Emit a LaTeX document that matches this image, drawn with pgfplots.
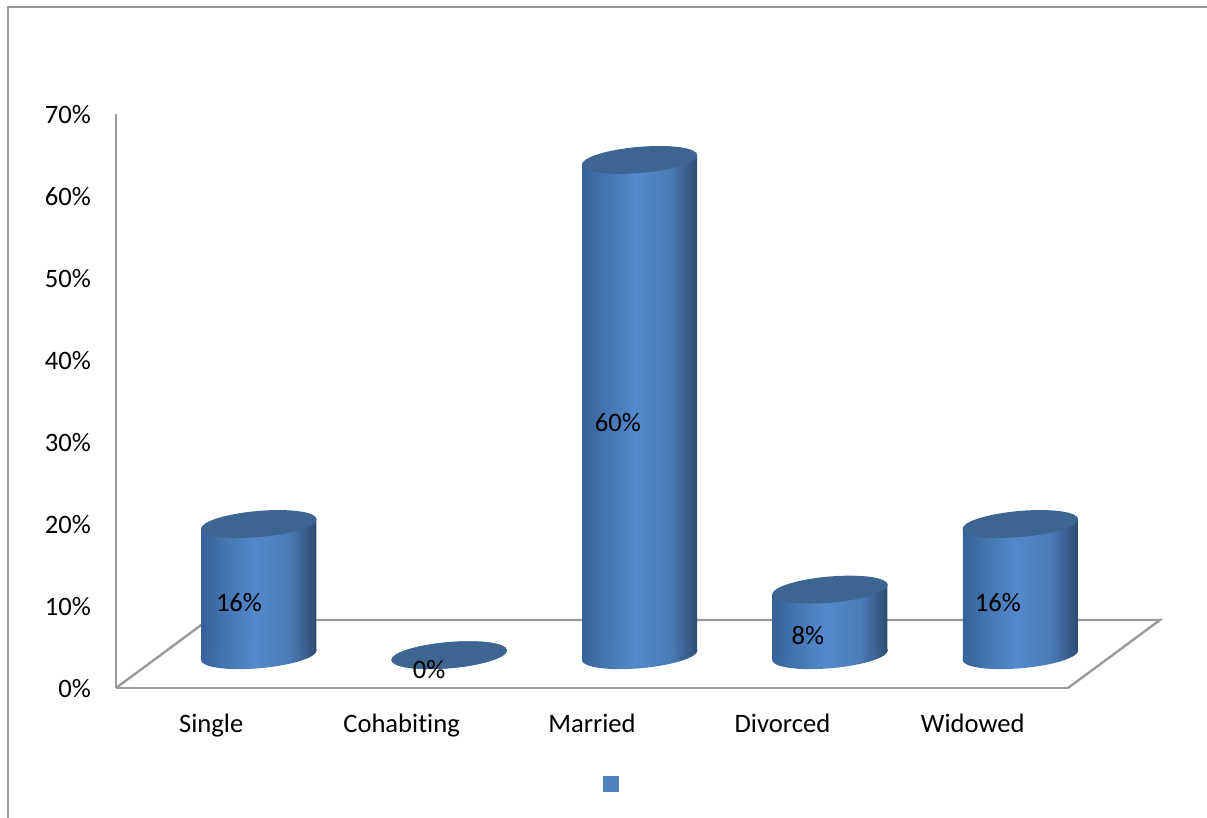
\documentclass[border=0pt]{standalone}
\usepackage{pgfplots}
\usepackage{pgfplotstable}
\usepackage{fontspec}
\setmainfont[Ligatures=CommonOff]{Carlito}
\pgfplotsset{compat=1.18}

\definecolor{axisgray}{HTML}{9A9A9A}
\definecolor{captop}{HTML}{3C6591}
\definecolor{keyblue}{HTML}{4F81BD}
\definecolor{cylA}{HTML}{35629A}
\definecolor{cylB}{HTML}{4273AE}
\definecolor{cylC}{HTML}{5489CC}
\definecolor{cylD}{HTML}{4B7CB8}
\definecolor{cylE}{HTML}{2D4B70}

% the middle 50bp of the shading is what fills the path
\pgfdeclarehorizontalshading{cyl}{100bp}{
  color(0bp)=(cylA); color(25bp)=(cylA); color(34bp)=(cylB);
  color(48bp)=(cylC); color(63bp)=(cylD); color(75bp)=(cylE); color(100bp)=(cylE)}

\pgfdeclareplotmark{cylcap}{%
  \pgfpathellipse{\pgfpointorigin}{\pgfqpoint{28.9pt}{2.5pt}}{\pgfqpoint{-0.55pt}{6.5pt}}%
  \pgfusepathqfill}
\pgfdeclareplotmark{cylbase}{%
  \pgfpathellipse{\pgfpointorigin}{\pgfqpoint{28.9pt}{2.5pt}}{\pgfqpoint{-0.55pt}{6.5pt}}%
  \pgfshadepath{cyl}{0}\pgfusepath{discard}}

% bx: cylinder centre, lx: label position, top: cylinder top on the drawn scale
\pgfplotstableread{
bx   lx    v   base top   laby label
0.75 0.646 16  4    20    10.4 16\%
1.75 1.644 0   4    4     2.3  0\%
2.75 2.636 60  4    64.4  32.4 60\%
3.75 3.634 8   4    12    6.4  8\%
4.75 4.632 16  4    20    10.4 16\%
}\bars

\begin{document}
\begin{tikzpicture}
\path[use as bounding box] (-58pt,-65pt) rectangle (545.5pt,344pt);
\draw[axisgray,line width=0.9pt] (-54pt,-65pt) -- (-54pt,340.5pt) -- (545.5pt,340.5pt);
\begin{axis}[
    at={(0pt,0pt)}, anchor=south west,
    scale only axis,
    width=476pt, height=287pt,
    xmin=0, xmax=5, ymin=0, ymax=70,
    clip=false,
    axis lines=left,
    axis line style={-, axisgray, line width=1.2pt},
    major tick length=0pt,
    xtick={0.5,1.5,2.5,3.5,4.5},
    xticklabels={Single,Cohabiting,Married,Divorced,Widowed},
    ytick={0,10,20,30,40,50,60,70},
    yticklabels={0\%,10\%,20\%,30\%,40\%,50\%,60\%,70\%},
    tick label style={font=\fontsize{13.3}{16}\selectfont, text=black},
    yticklabel style={xshift=-9pt, yshift=-0.5pt},
    xticklabel style={yshift=-9.5pt},
]
% floor of the 3D box
\addplot[axisgray, line width=1.2pt, mark=none] coordinates {
    (0,0) (0.483,8.29) (5.483,8.29) (5,0)
};
% bottom ellipses
\addplot[only marks, mark=cylbase, mark options={solid}] table[x=bx, y=base] {\bars};
% cylinder walls
\addplot[draw=none, shading=cyl, mark=none] coordinates {
    (0.448,3.46) (0.448,19.46) (1.052,20.54) (1.052,4.54)
} -- cycle;
\addplot[draw=none, shading=cyl, mark=none] coordinates {
    (2.448,3.46) (2.448,63.86) (3.052,64.94) (3.052,4.54)
} -- cycle;
\addplot[draw=none, shading=cyl, mark=none] coordinates {
    (3.448,3.46) (3.448,11.46) (4.052,12.54) (4.052,4.54)
} -- cycle;
\addplot[draw=none, shading=cyl, mark=none] coordinates {
    (4.448,3.46) (4.448,19.46) (5.052,20.54) (5.052,4.54)
} -- cycle;
% top ellipses
\addplot[only marks, mark=cylcap, color=captop] table[x=bx, y=top] {\bars};
% data labels
\addplot[only marks, mark=none,
    nodes near coords, point meta=explicit symbolic,
    every node near coord/.style={anchor=center, font=\fontsize{13.3}{16}\selectfont, text=black},
] table[x=lx, y=laby, meta=label] {\bars};
% legend key without text
\addplot[only marks, mark=square*, mark size=3.75pt, color=keyblue] coordinates {(2.6,-11.7)};
\end{axis}
\end{tikzpicture}
\end{document}
